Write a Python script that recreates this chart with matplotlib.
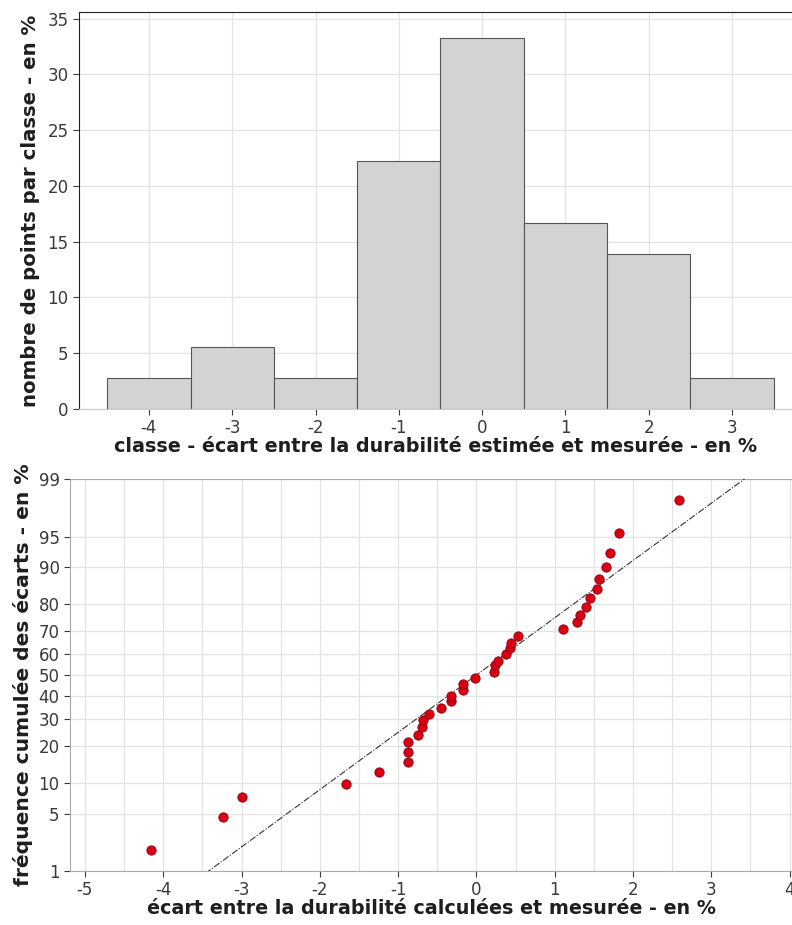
from statistics import NormalDist

import matplotlib

matplotlib.use("Agg")
import matplotlib.pyplot as plt
import numpy as np
from matplotlib.ticker import FixedLocator, MultipleLocator

# histogram: class centres and share of points per class (%)
hist_centres = [-4, -3, -2, -1, 0, 1, 2, 3]
hist_pct = [2.78, 5.56, 2.78, 22.2, 33.3, 16.7, 13.9, 2.78]

# probability plot: deviation (%) and cumulative frequency (%)
deviation = [
    -4.15, -3.23, -3.00, -1.66, -1.24, -0.87, -0.875, -0.87, -0.74, -0.69,
    -0.68, -0.61, -0.45, -0.33, -0.32, -0.175, -0.17, -0.02, 0.22, 0.24,
    0.27, 0.38, 0.43, 0.445, 0.53, 1.10, 1.28, 1.32, 1.40, 1.45,
    1.54, 1.56, 1.65, 1.70, 1.82, 2.59,
]
cum_freq = [
    1.9, 4.6, 7.4, 9.8, 12.5, 15.0, 17.9, 21.2, 23.8, 26.8,
    29.7, 32.0, 35.0, 37.8, 40.1, 43.1, 45.9, 48.7, 51.3, 54.6,
    56.6, 59.9, 62.5, 65.0, 68.0, 70.6, 73.4, 76.1, 79.1, 81.9,
    84.6, 87.2, 90.0, 92.6, 95.4, 98.1,
]
prob_ticks = [1, 5, 10, 20, 30, 40, 50, 60, 70, 80, 90, 95, 99]

# fitted normal law
fit_mean = 0.0
fit_std = 1.47

_nd = NormalDist()
_ppf = np.vectorize(_nd.inv_cdf, otypes=[float])
_cdf = np.vectorize(_nd.cdf, otypes=[float])


def _to_z(p):
    p = np.clip(np.asarray(p, dtype=float) / 100.0, 1e-9, 1 - 1e-9)
    return _ppf(p)


def _from_z(z):
    return 100.0 * _cdf(np.asarray(z, dtype=float))


plt.rcParams["font.family"] = ["DejaVu Sans"]
plt.rcParams["axes.unicode_minus"] = False
tick_color = "#3a3a3a"
grid_color = "#e3e3e3"
label_kw = dict(fontweight="bold", color="#1e1e1e")

fig = plt.figure(figsize=(7.92, 9.25), dpi=100)

# ---- top: histogram ----
ax1 = fig.add_axes([0.0997, 0.558, 0.9003, 0.429])
ax1.bar(hist_centres, hist_pct, width=1.0, color="#d3d3d3",
        edgecolor="#555555", linewidth=0.8, zorder=2)
ax1.set_xlim(-4.84, 3.72)
ax1.set_ylim(0, 35.6)
ax1.set_xticks(hist_centres)
ax1.set_yticks(range(0, 36, 5))
ax1.grid(True, color=grid_color, linewidth=0.9, zorder=0)
ax1.set_axisbelow(True)
ax1.spines["right"].set_visible(False)
ax1.spines["bottom"].set_color("#cccccc")
ax1.spines["left"].set_color("#222222")
ax1.spines["top"].set_color("#222222")
ax1.tick_params(colors=tick_color, labelsize=12, length=4, width=0.8)
ax1.set_xlabel("classe - écart entre la durabilité estimée et mesurée - en %",
               fontsize=13.8, labelpad=0, **label_kw)
ax1.set_ylabel("nombre de points par classe - en %",
               fontsize=14.2, labelpad=5, **label_kw)

# ---- bottom: normal probability plot ----
ax2 = fig.add_axes([0.0884, 0.0584, 0.9116, 0.4236])
ax2.set_yscale("function", functions=(_to_z, _from_z))
ax2.set_xlim(-5.19, 4.03)
ax2.set_ylim(1, 99)

xs_line = np.linspace(-5.5, 4.5, 200)
ax2.plot(xs_line, _from_z((xs_line - fit_mean) / fit_std), color="#333333",
         linewidth=0.8, linestyle=(0, (6, 1.5, 1, 1.5)), zorder=3)
ax2.scatter(deviation, cum_freq, s=45, color="#d80012", edgecolor="#8a0010",
            linewidth=0.6, zorder=4)

ax2.yaxis.set_major_locator(FixedLocator(prob_ticks))
ax2.set_yticklabels([str(t) for t in prob_ticks])
ax2.yaxis.set_minor_locator(FixedLocator([]))
ax2.xaxis.set_major_locator(MultipleLocator(1))
ax2.xaxis.set_minor_locator(MultipleLocator(0.5))
ax2.grid(True, which="major", color=grid_color, linewidth=0.9, zorder=0)
ax2.grid(True, which="minor", axis="x", color=grid_color, linewidth=0.9, zorder=0)
ax2.set_axisbelow(True)
ax2.spines["right"].set_visible(False)
for side in ("left", "bottom", "top"):
    ax2.spines[side].set_color("#aaaaaa")
ax2.tick_params(colors=tick_color, labelsize=12, length=4, width=0.8)
ax2.tick_params(which="minor", length=0)
ax2.set_xlabel("écart entre la durabilité calculées et mesurée - en %",
               fontsize=13.8, labelpad=0, **label_kw)
ax2.set_ylabel("fréquence cumulée des écarts - en %",
               fontsize=14.6, labelpad=4, **label_kw)

fig.savefig("out.png", dpi=100)
